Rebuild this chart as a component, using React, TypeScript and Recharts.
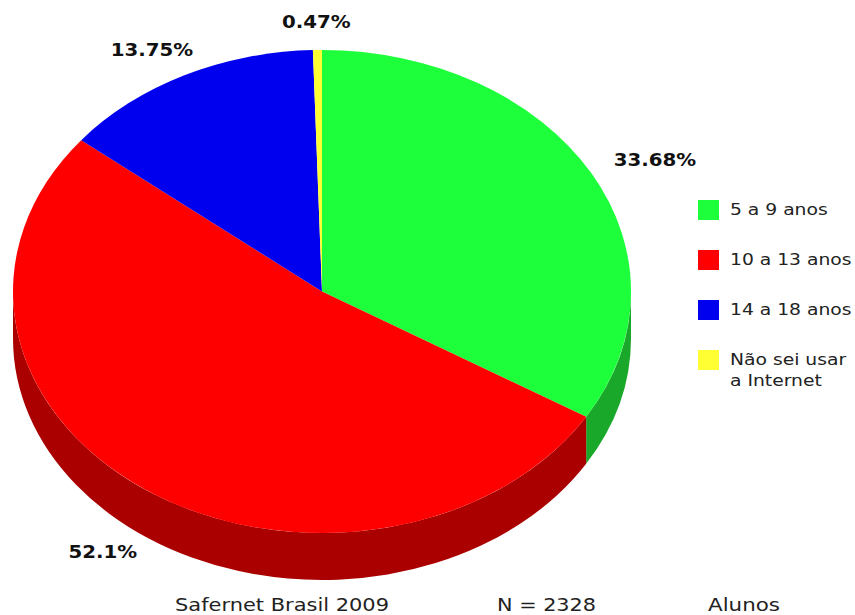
import React from 'react';
import { PieChart, Pie, Cell, Legend, Customized } from 'recharts';

const categories = ['5 a 9 anos', '10 a 13 anos', '14 a 18 anos', 'Não sei usar a Internet'];
const legendLines = [['5 a 9 anos'], ['10 a 13 anos'], ['14 a 18 anos'], ['Não sei usar', 'a Internet']];
const values = [33.68, 52.1, 13.75, 0.47];
const percentLabels = ['33.68%', '52.1%', '13.75%', '0.47%'];
const footerTexts = ['Safernet Brasil 2009', 'N = 2328', 'Alunos'];

const topColors = ['#1eff3c', '#ff0000', '#0000ee', '#ffff33'];
const sideColors = ['#1aa82a', '#aa0000', '#00009a', '#aaaa22'];

const data = categories.map((name, i) => ({ name, value: values[i] }));

const CX = 322;
const CY = 291.5;
const RX = 309;
const RY = 241.5;
const DEPTH = 47;
const LRX = 382;
const LRY = 270;
const FONT = '"DejaVu Sans", Verdana, sans-serif';

const rad = (d: number) => (d * Math.PI) / 180;
const pt = (t: number, dy = 0) => {
  const x = CX + RX * Math.sin(rad(t));
  const y = CY - RY * Math.cos(rad(t)) + dy;
  return `${x.toFixed(2)},${y.toFixed(2)}`;
};

const renderSlice = (props: any) => {
  const { startAngle, endAngle, midAngle, index } = props;
  const t1 = 90 - startAngle;
  const t2 = 90 - endAngle;
  const span = t2 - t1;
  const top = `M${CX},${CY} L${pt(t1)} A${RX},${RY} 0 ${span > 180 ? 1 : 0} 1 ${pt(t2)} Z`;
  let side: string | null = null;
  const s1 = Math.max(t1, 90);
  const s2 = Math.min(t2, 270);
  if (s2 > s1) {
    side = `M${pt(s1)} A${RX},${RY} 0 0 1 ${pt(s2)} L${pt(s2, DEPTH)} A${RX},${RY} 0 0 0 ${pt(s1, DEPTH)} Z`;
  }
  const tm = 90 - midAngle;
  const c = Math.cos(rad(tm));
  const lx = CX + LRX * Math.sin(rad(tm));
  const ly = CY - LRY * c + (c < 0 ? -c * DEPTH : 0);
  return (
    <g key={`slice-${index}`}>
      {side && <path d={side} fill={sideColors[index]} stroke="none" />}
      <path d={top} fill={topColors[index]} stroke="none" />
      <text
        x={0}
        y={0}
        transform={`translate(${lx.toFixed(2)},${ly.toFixed(2)}) scale(1.1,1)`}
        textAnchor="middle"
        dominantBaseline="central"
        fontFamily={FONT}
        fontWeight="bold"
        fontSize={18}
        fill="#111"
      >
        {percentLabels[index]}
      </text>
    </g>
  );
};

const renderLegend = () => (
  <div style={{ position: 'relative', width: 157, height: 200, fontFamily: FONT, fontSize: 16, color: '#222' }}>
    {legendLines.map((lines, i) => (
      <div key={i} style={{ position: 'absolute', left: 0, top: i * 50, display: 'flex', alignItems: 'flex-start' }}>
        <div style={{ width: 21, height: 20, background: topColors[i], flex: 'none' }} />
        <div
          style={{
            marginLeft: 11,
            lineHeight: '21px',
            marginTop: -1,
            whiteSpace: 'nowrap',
            transform: 'scaleX(1.17)',
            transformOrigin: 'left center',
          }}
        >
          {lines.map((l, j) => (
            <div key={j}>{l}</div>
          ))}
        </div>
      </div>
    ))}
  </div>
);

const footerX = [175, 497, 708];
const footerW = [214, 99, 72];

const Footer = () => (
  <g fontFamily={FONT} fontSize={17} fill="#222">
    {footerTexts.map((t, i) => (
      <text key={t} x={footerX[i]} y={611} textLength={footerW[i]} lengthAdjust="spacingAndGlyphs">
        {t}
      </text>
    ))}
  </g>
);

export default function App() {
  return (
    <div style={{ position: 'absolute', left: 0, top: 0, width: 855, height: 615, background: '#fff' }}>
      <PieChart width={855} height={615} margin={{ top: 0, right: 0, bottom: 0, left: 0 }}>
        <Pie
          data={data}
          dataKey="value"
          nameKey="name"
          cx={CX}
          cy={CY}
          outerRadius={RY}
          startAngle={90}
          endAngle={-270}
          stroke="none"
          isAnimationActive={false}
          label={renderSlice}
          labelLine={false}
        >
          {data.map((d) => (
            <Cell key={d.name} fill="none" stroke="none" />
          ))}
        </Pie>
        <Legend
          content={renderLegend}
          wrapperStyle={{ position: 'absolute', left: 698, top: 200, width: 157 }}
        />
        <Customized component={Footer} />
      </PieChart>
    </div>
  );
}
